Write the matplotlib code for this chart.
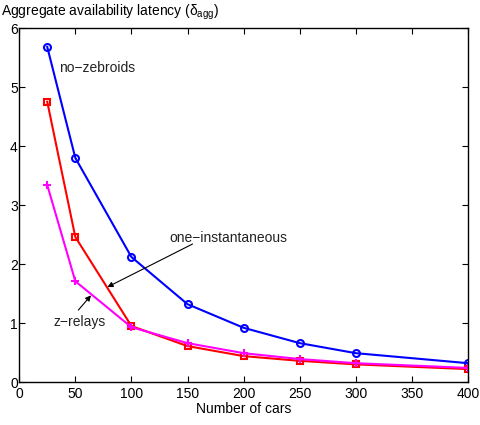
import matplotlib
matplotlib.use("Agg")
import matplotlib.pyplot as plt

plt.rcParams['font.family'] = ['Liberation Sans', 'DejaVu Sans']
plt.rcParams['mathtext.fontset'] = 'custom'
plt.rcParams['mathtext.rm'] = 'Liberation Sans'
plt.rcParams['mathtext.it'] = 'Liberation Sans'

cars = [25, 50, 100, 150, 200, 250, 300, 400]
no_zebroids = [5.68, 3.80, 2.12, 1.32, 0.92, 0.66, 0.49, 0.32]
one_instantaneous = [4.75, 2.46, 0.95, 0.61, 0.44, 0.36, 0.30, 0.22]
z_relays = [3.34, 1.71, 0.93, 0.66, 0.49, 0.39, 0.32, 0.24]

xticks = [0, 50, 100, 150, 200, 250, 300, 350, 400]
yticks = [0, 1, 2, 3, 4, 5, 6]

fig = plt.figure(figsize=(4.8, 4.25), dpi=100)
ax = fig.add_axes([0.04, 0.101, 0.935, 0.833])

ax.plot(cars, no_zebroids, color='#0000ff', lw=1.5, marker='o', ms=5,
        mfc='none', mew=1.5)
ax.plot(cars, one_instantaneous, color='#ff0000', lw=1.5, marker='s', ms=4.5,
        mfc='none', mew=1.5)
ax.plot(cars, z_relays, color='#ff00ff', lw=1.5, marker='+', ms=5.5,
        mew=1.5)

ax.set_xlim(0, 400)
ax.set_ylim(0, 6)
ax.set_xticks(xticks)
ax.set_yticks(yticks)
ax.tick_params(direction='in', top=True, right=True, labelsize=10, length=4)
ax.tick_params(axis='x', pad=3.5)
ax.tick_params(axis='y', pad=1)
for s in ax.spines.values():
    s.set_linewidth(1.0)

# labels and arrows
arrow = dict(arrowstyle='-|>', color='black', lw=0.8, shrinkA=0, shrinkB=0,
             mutation_scale=8)
ax.text(35.5, 5.32, 'no\u2212zebroids', fontsize=10, va='center', ha='left',
        color='#222222')
ax.text(186.6, 2.44, 'one\u2212instantaneous', fontsize=10, va='center',
        ha='center', color='#222222')
ax.annotate('', xy=(78.6, 1.61), xytext=(154.5, 2.34), arrowprops=arrow)
ax.text(54, 1.02, 'z\u2212relays', fontsize=10, va='center', ha='center',
        color='#222222')
ax.annotate('', xy=(64, 1.47), xytext=(52.7, 1.22), arrowprops=arrow)

ax.set_xlabel('Number of cars', fontsize=10, labelpad=0.5)
fig.text(0.002, 0.972, r'Aggregate availability latency ($\delta_{agg}$)',
         fontsize=10, ha='left', va='center')

fig.savefig('out.png', dpi=100)
